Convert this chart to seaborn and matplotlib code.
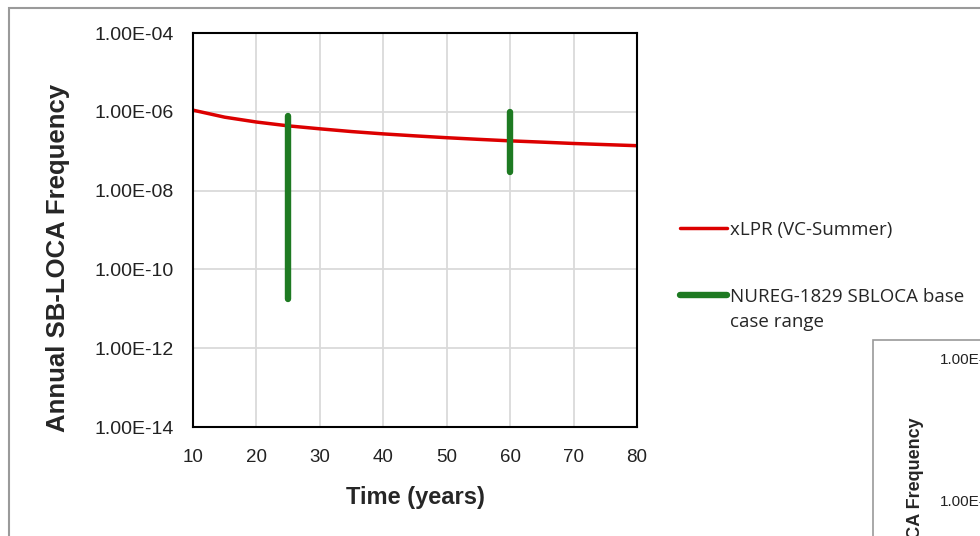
import numpy as np
import pandas as pd
import matplotlib.pyplot as plt
import matplotlib.ticker as mticker
from matplotlib.patches import Rectangle
import seaborn as sns

# data
years = [10, 15, 20, 25, 30, 35, 40, 45, 50, 55, 60, 65, 70, 75, 80]
xlpr_freq = [1.1e-6, 7.3e-7, 5.5e-7, 4.4e-7, 3.7e-7, 3.15e-7, 2.75e-7, 2.45e-7,
             2.2e-7, 2.0e-7, 1.83e-7, 1.7e-7, 1.57e-7, 1.47e-7, 1.38e-7]

nureg_years = [25, 60]
nureg_low = [1.8e-11, 3.0e-8]
nureg_high = [8.0e-7, 1.0e-6]

x_ticks = [10, 20, 30, 40, 50, 60, 70, 80]
y_ticks = [1e-14, 1e-12, 1e-10, 1e-8, 1e-6, 1e-4]
y_ticklabels = ['1.00E-14', '1.00E-12', '1.00E-10', '1.00E-08', '1.00E-06', '1.00E-04']

sns.set_theme(style='white')
plt.rcParams['font.family'] = ['Liberation Sans', 'DejaVu Sans']

fig = plt.figure(figsize=(9.8, 5.36), dpi=100)
ax = fig.add_axes([193 / 980, 1 - 427 / 536, 444 / 980, 394 / 536])

df = pd.DataFrame({'Time': years, 'Freq': xlpr_freq})
sns.lineplot(data=df, x='Time', y='Freq', ax=ax, color='#dc0000', lw=2.5,
             label='xLPR (VC-Summer)', legend=False)

# range bars
rng = pd.DataFrame({
    'Time': np.repeat(nureg_years, 2),
    'Freq': np.ravel(np.column_stack([nureg_low, nureg_high])),
    'grp': np.repeat(range(len(nureg_years)), 2),
})
for i, (_, sub) in enumerate(rng.groupby('grp')):
    ax.plot(sub['Time'], sub['Freq'], color='#1e7a22', lw=4.6, solid_capstyle='round',
            label='NUREG-1829 SBLOCA base' if i == 0 else None)

ax.set_yscale('log')
ax.set_xlim(10, 80)
ax.set_ylim(1e-14, 1e-4)
ax.set_xticks(x_ticks)
ax.set_yticks(y_ticks)
ax.set_yticklabels(y_ticklabels)
ax.yaxis.set_minor_locator(mticker.NullLocator())
ax.grid(True, color='#dadada', lw=1.3)
ax.set_axisbelow(True)
for s in ax.spines.values():
    s.set_color('black')
    s.set_linewidth(1.5)
ax.tick_params(axis='y', labelsize=14, pad=14, length=0, colors='#222222')
ax.tick_params(axis='x', labelsize=13.5, pad=16, length=0, colors='#222222')

ax.set_xlabel('Time (years)', fontsize=17, fontweight='bold', labelpad=14)
ax.set_ylabel('Annual SB-LOCA Frequency', fontsize=18.5, fontweight='bold')
ax.yaxis.set_label_coords(-0.277, 0.43)

leg_font = {'family': ['Open Sans', 'DejaVu Sans'], 'size': 13.5}
leg = ax.legend(loc='upper left', bbox_to_anchor=(663 / 980, 1 - 204 / 536),
                bbox_transform=fig.transFigure, frameon=False, handlelength=2.5,
                handletextpad=0.15, labelspacing=2.6, prop=leg_font)

# second line of the NUREG label, placed under the first one
fig.canvas.draw()
bb = leg.get_texts()[1].get_window_extent()
x0, y0 = fig.transFigure.inverted().transform((bb.x0, bb.y0))
fig.text(x0, y0 - 25 / 536, 'case range', va='bottom', ha='left', **leg_font)

# outer chart border
fig.patches.append(Rectangle((9 / 980, -0.2), 1.2, 1.2 - 8 / 536, transform=fig.transFigure,
                             fill=False, ec='#9a9a9a', lw=1.5))
# neighbouring chart, cut off at the edge
fig.patches.append(Rectangle((873 / 980, -0.2), 1.0, 0.2 + 1 - 340 / 536, transform=fig.transFigure,
                             fill=False, ec='#9a9a9a', lw=1.2))
fig.text(940 / 980, 1 - 360 / 536, '1.00E-04', fontsize=11, va='center', ha='left', color='#222222')
fig.text(940 / 980, 1 - 502 / 536, '1.00E-06', fontsize=11, va='center', ha='left', color='#222222')
fig.text(915 / 980, 1 - 417 / 536, 'Annual SB-LOCA Frequency', rotation=90, fontsize=13,
         fontweight='bold', ha='center', va='top')

fig.savefig('out.png', dpi=100)
